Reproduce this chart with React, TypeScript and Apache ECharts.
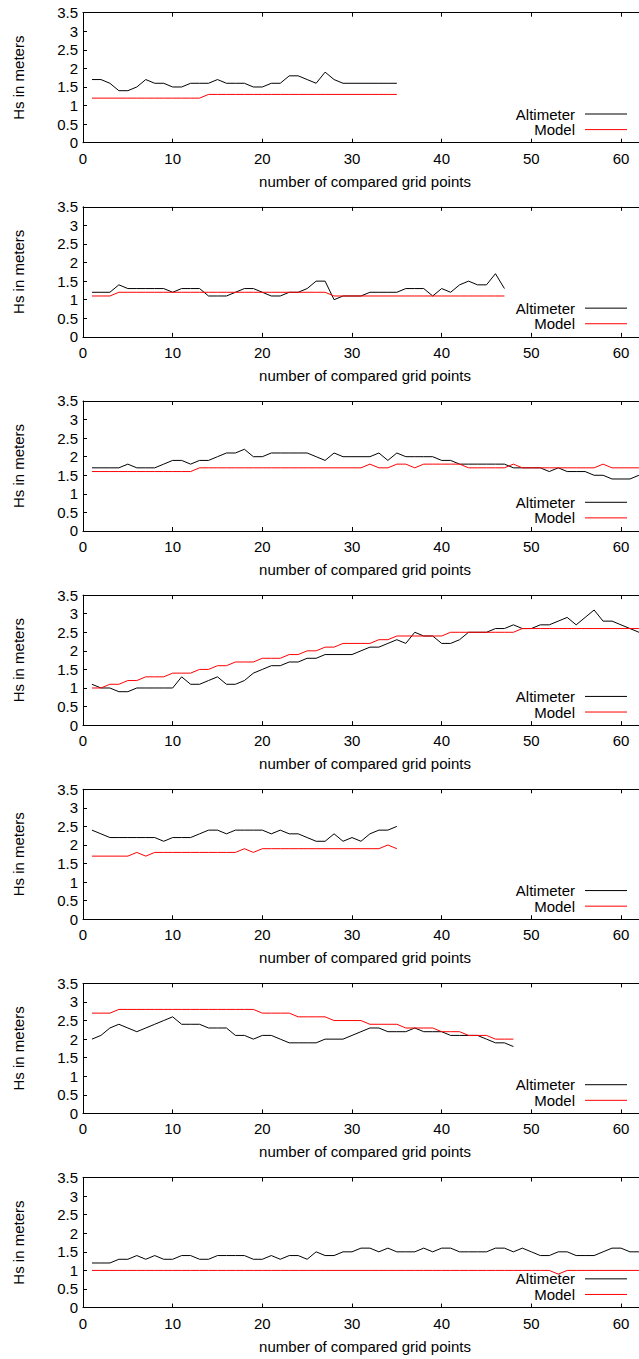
import React, { useEffect, useRef } from "react";
import * as echarts from "echarts";

const xTickLabels = [0, 10, 20, 30, 40, 50, 60];
const yTickLabels = [0, 0.5, 1, 1.5, 2, 2.5, 3, 3.5];
const seriesNames = ["Altimeter", "Model"];
const xAxisTitle = "number of compared grid points";
const yAxisTitle = "Hs in meters";

const altimeter1 = [
  1.7, 1.7, 1.6, 1.4, 1.4, 1.5, 1.7, 1.6, 1.6, 1.5,
  1.5, 1.6, 1.6, 1.6, 1.7, 1.6, 1.6, 1.6, 1.5, 1.5,
  1.6, 1.6, 1.8, 1.8, 1.7, 1.6, 1.9, 1.7, 1.6, 1.6,
  1.6, 1.6, 1.6, 1.6, 1.6,
];
const model1 = [
  1.2, 1.2, 1.2, 1.2, 1.2, 1.2, 1.2, 1.2, 1.2, 1.2,
  1.2, 1.2, 1.2, 1.3, 1.3, 1.3, 1.3, 1.3, 1.3, 1.3,
  1.3, 1.3, 1.3, 1.3, 1.3, 1.3, 1.3, 1.3, 1.3, 1.3,
  1.3, 1.3, 1.3, 1.3, 1.3,
];

const altimeter2 = [
  1.2, 1.2, 1.2, 1.4, 1.3, 1.3, 1.3, 1.3, 1.3, 1.2,
  1.3, 1.3, 1.3, 1.1, 1.1, 1.1, 1.2, 1.3, 1.3, 1.2,
  1.1, 1.1, 1.2, 1.2, 1.3, 1.5, 1.5, 1.0, 1.1, 1.1,
  1.1, 1.2, 1.2, 1.2, 1.2, 1.3, 1.3, 1.3, 1.1, 1.3,
  1.2, 1.4, 1.5, 1.4, 1.4, 1.7, 1.3,
];
const model2 = [
  1.1, 1.1, 1.1, 1.2, 1.2, 1.2, 1.2, 1.2, 1.2, 1.2,
  1.2, 1.2, 1.2, 1.2, 1.2, 1.2, 1.2, 1.2, 1.2, 1.2,
  1.2, 1.2, 1.2, 1.2, 1.2, 1.2, 1.2, 1.1, 1.1, 1.1,
  1.1, 1.1, 1.1, 1.1, 1.1, 1.1, 1.1, 1.1, 1.1, 1.1,
  1.1, 1.1, 1.1, 1.1, 1.1, 1.1, 1.1,
];

const altimeter3 = [
  1.7, 1.7, 1.7, 1.7, 1.8, 1.7, 1.7, 1.7, 1.8, 1.9,
  1.9, 1.8, 1.9, 1.9, 2.0, 2.1, 2.1, 2.2, 2.0, 2.0,
  2.1, 2.1, 2.1, 2.1, 2.1, 2.0, 1.9, 2.1, 2.0, 2.0,
  2.0, 2.0, 2.1, 1.9, 2.1, 2.0, 2.0, 2.0, 2.0, 1.9,
  1.9, 1.8, 1.8, 1.8, 1.8, 1.8, 1.8, 1.7, 1.7, 1.7,
  1.7, 1.6, 1.7, 1.6, 1.6, 1.6, 1.5, 1.5, 1.4, 1.4,
  1.4, 1.5,
];
const model3 = [
  1.6, 1.6, 1.6, 1.6, 1.6, 1.6, 1.6, 1.6, 1.6, 1.6,
  1.6, 1.6, 1.7, 1.7, 1.7, 1.7, 1.7, 1.7, 1.7, 1.7,
  1.7, 1.7, 1.7, 1.7, 1.7, 1.7, 1.7, 1.7, 1.7, 1.7,
  1.7, 1.8, 1.7, 1.7, 1.8, 1.8, 1.7, 1.8, 1.8, 1.8,
  1.8, 1.8, 1.7, 1.7, 1.7, 1.7, 1.7, 1.8, 1.7, 1.7,
  1.7, 1.7, 1.7, 1.7, 1.7, 1.7, 1.7, 1.8, 1.7, 1.7,
  1.7, 1.7,
];

const altimeter4 = [
  1.1, 1.0, 1.0, 0.9, 0.9, 1.0, 1.0, 1.0, 1.0, 1.0,
  1.3, 1.1, 1.1, 1.2, 1.3, 1.1, 1.1, 1.2, 1.4, 1.5,
  1.6, 1.6, 1.7, 1.7, 1.8, 1.8, 1.9, 1.9, 1.9, 1.9,
  2.0, 2.1, 2.1, 2.2, 2.3, 2.2, 2.5, 2.4, 2.4, 2.2,
  2.2, 2.3, 2.5, 2.5, 2.5, 2.6, 2.6, 2.7, 2.6, 2.6,
  2.7, 2.7, 2.8, 2.9, 2.7, 2.9, 3.1, 2.8, 2.8, 2.7,
  2.6, 2.5,
];
const model4 = [
  1.0, 1.0, 1.1, 1.1, 1.2, 1.2, 1.3, 1.3, 1.3, 1.4,
  1.4, 1.4, 1.5, 1.5, 1.6, 1.6, 1.7, 1.7, 1.7, 1.8,
  1.8, 1.8, 1.9, 1.9, 2.0, 2.0, 2.1, 2.1, 2.2, 2.2,
  2.2, 2.2, 2.3, 2.3, 2.4, 2.4, 2.4, 2.4, 2.4, 2.4,
  2.5, 2.5, 2.5, 2.5, 2.5, 2.5, 2.5, 2.5, 2.6, 2.6,
  2.6, 2.6, 2.6, 2.6, 2.6, 2.6, 2.6, 2.6, 2.6, 2.6,
  2.6, 2.6,
];

const altimeter5 = [
  2.4, 2.3, 2.2, 2.2, 2.2, 2.2, 2.2, 2.2, 2.1, 2.2,
  2.2, 2.2, 2.3, 2.4, 2.4, 2.3, 2.4, 2.4, 2.4, 2.4,
  2.3, 2.4, 2.3, 2.3, 2.2, 2.1, 2.1, 2.3, 2.1, 2.2,
  2.1, 2.3, 2.4, 2.4, 2.5,
];
const model5 = [
  1.7, 1.7, 1.7, 1.7, 1.7, 1.8, 1.7, 1.8, 1.8, 1.8,
  1.8, 1.8, 1.8, 1.8, 1.8, 1.8, 1.8, 1.9, 1.8, 1.9,
  1.9, 1.9, 1.9, 1.9, 1.9, 1.9, 1.9, 1.9, 1.9, 1.9,
  1.9, 1.9, 1.9, 2.0, 1.9,
];

const altimeter6 = [
  2.0, 2.1, 2.3, 2.4, 2.3, 2.2, 2.3, 2.4, 2.5, 2.6,
  2.4, 2.4, 2.4, 2.3, 2.3, 2.3, 2.1, 2.1, 2.0, 2.1,
  2.1, 2.0, 1.9, 1.9, 1.9, 1.9, 2.0, 2.0, 2.0, 2.1,
  2.2, 2.3, 2.3, 2.2, 2.2, 2.2, 2.3, 2.2, 2.2, 2.2,
  2.1, 2.1, 2.1, 2.1, 2.0, 1.9, 1.9, 1.8,
];
const model6 = [
  2.7, 2.7, 2.7, 2.8, 2.8, 2.8, 2.8, 2.8, 2.8, 2.8,
  2.8, 2.8, 2.8, 2.8, 2.8, 2.8, 2.8, 2.8, 2.8, 2.7,
  2.7, 2.7, 2.7, 2.6, 2.6, 2.6, 2.6, 2.5, 2.5, 2.5,
  2.5, 2.4, 2.4, 2.4, 2.4, 2.3, 2.3, 2.3, 2.3, 2.2,
  2.2, 2.2, 2.1, 2.1, 2.1, 2.0, 2.0, 2.0,
];

const altimeter7 = [
  1.2, 1.2, 1.2, 1.3, 1.3, 1.4, 1.3, 1.4, 1.3, 1.3,
  1.4, 1.4, 1.3, 1.3, 1.4, 1.4, 1.4, 1.4, 1.3, 1.3,
  1.4, 1.3, 1.4, 1.4, 1.3, 1.5, 1.4, 1.4, 1.5, 1.5,
  1.6, 1.6, 1.5, 1.6, 1.5, 1.5, 1.5, 1.6, 1.5, 1.6,
  1.6, 1.5, 1.5, 1.5, 1.5, 1.6, 1.6, 1.5, 1.6, 1.5,
  1.4, 1.4, 1.5, 1.5, 1.4, 1.4, 1.4, 1.5, 1.6, 1.6,
  1.5, 1.5,
];
const model7 = [
  1.0, 1.0, 1.0, 1.0, 1.0, 1.0, 1.0, 1.0, 1.0, 1.0,
  1.0, 1.0, 1.0, 1.0, 1.0, 1.0, 1.0, 1.0, 1.0, 1.0,
  1.0, 1.0, 1.0, 1.0, 1.0, 1.0, 1.0, 1.0, 1.0, 1.0,
  1.0, 1.0, 1.0, 1.0, 1.0, 1.0, 1.0, 1.0, 1.0, 1.0,
  1.0, 1.0, 1.0, 1.0, 1.0, 1.0, 1.0, 1.0, 1.0, 1.0,
  1.0, 1.0, 0.9, 1.0, 1.0, 1.0, 1.0, 1.0, 1.0, 1.0,
  1.0, 1.0,
];

const panels = [
  [altimeter1, model1],
  [altimeter2, model2],
  [altimeter3, model3],
  [altimeter4, model4],
  [altimeter5, model5],
  [altimeter6, model6],
  [altimeter7, model7],
];

const FONT = '"Liberation Sans", Arial, sans-serif';
const PANEL_STEP = 1359 / 7;
const PLOT_TOP = 12.7;
const PLOT_H = 130;
const PLOT_LEFT = 83;
const PLOT_W = 564;
const X_MAX = 62.9;
const lineColors = ["#000000", "#ff0000"];

export default function App() {
  const ref = useRef<HTMLDivElement>(null);

  useEffect(() => {
    if (!ref.current) return;
    const chart = echarts.init(ref.current, undefined, { renderer: "svg" });

    const grids: any[] = [];
    const xAxes: any[] = [];
    const yAxes: any[] = [];
    const series: any[] = [];
    const graphics: any[] = [];

    panels.forEach((pair, i) => {
      const top = PLOT_TOP + i * PANEL_STEP;
      grids.push({ left: PLOT_LEFT, top, width: PLOT_W, height: PLOT_H, containLabel: false });
      const common = {
        gridIndex: i,
        type: "value",
        min: xTickLabels[0],
        max: X_MAX,
        interval: 10,
        splitLine: { show: false },
        axisTick: { show: true, inside: true, length: 4, lineStyle: { color: "#000", width: 1 } },
        axisLine: { show: true, onZero: false, lineStyle: { color: "#000", width: 1 } },
      };
      xAxes.push({
        ...common,
        position: "bottom",
        axisLabel: {
          show: true,
          color: "#000",
          fontSize: 15,
          fontFamily: FONT,
          margin: 8,
          formatter: (v: number) => (xTickLabels.includes(v) ? String(v) : ""),
        },
        name: xAxisTitle,
        nameLocation: "middle",
        nameGap: 31,
        nameTextStyle: { color: "#000", fontSize: 15, fontFamily: FONT },
      });
      xAxes.push({
        ...common,
        position: "top",
        axisLabel: { show: false },
      });
      yAxes.push({
        gridIndex: i,
        type: "value",
        min: yTickLabels[0],
        max: yTickLabels[yTickLabels.length - 1],
        interval: 0.5,
        splitLine: { show: false },
        axisTick: { show: true, inside: true, length: 4, lineStyle: { color: "#000", width: 1 } },
        axisLine: { show: true, onZero: false, lineStyle: { color: "#000", width: 1 } },
        axisLabel: { color: "#000", fontSize: 15, fontFamily: FONT, margin: 5 },
        name: yAxisTitle,
        nameLocation: "middle",
        nameGap: 57,
        nameRotate: 90,
        nameTextStyle: { color: "#000", fontSize: 15, fontFamily: FONT },
      });
      pair.forEach((vals, k) => {
        series.push({
          type: "line",
          name: seriesNames[k],
          xAxisIndex: i * 2,
          yAxisIndex: i,
          symbol: "none",
          showSymbol: false,
          lineStyle: { color: lineColors[k], width: 1 },
          itemStyle: { color: lineColors[k] },
          data: vals.map((v, j) => [j + 1, v]),
          z: k === 0 ? 2 : 3,
        });
      });
      seriesNames.forEach((nm, k) => {
        const y = top + 101.3 + k * 15.6;
        graphics.push({
          type: "text",
          x: 575,
          y,
          style: {
            text: nm,
            align: "right",
            verticalAlign: "middle",
            fontSize: 15,
            fontFamily: FONT,
            fill: "#000",
          },
        });
        graphics.push({
          type: "line",
          shape: { x1: 585, y1: y, x2: 627, y2: y },
          style: { stroke: lineColors[k], lineWidth: 1 },
        });
      });
    });

    chart.setOption({
      animation: false,
      backgroundColor: "#ffffff",
      grid: grids,
      xAxis: xAxes,
      yAxis: yAxes,
      series,
      graphic: graphics,
    });

    return () => chart.dispose();
  }, []);

  return (
    <div
      style={{
        position: "absolute",
        left: 0,
        top: 0,
        width: 639,
        height: 1359,
        overflow: "hidden",
        background: "#fff",
      }}
    >
      <div ref={ref} style={{ width: 650, height: 1359 }} />
    </div>
  );
}
